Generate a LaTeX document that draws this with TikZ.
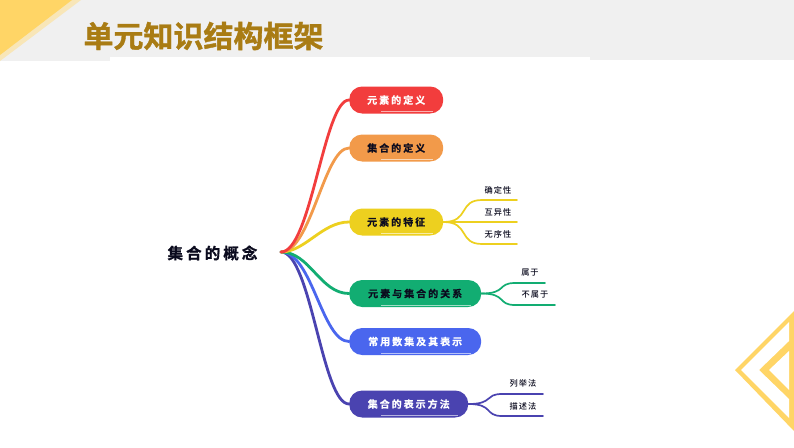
\documentclass[tikz,border=0pt]{standalone}
\usepackage{fontspec}
\newfontfamily\cjktitle[FakeBold=1.2]{Noto Sans CJK SC Bold}
\newfontfamily\cjkroot[LetterSpace=20,FakeBold=1]{Noto Sans CJK SC Bold}
\newfontfamily\cjkpill[LetterSpace=20,FakeBold=0.6]{Noto Sans CJK SC Bold}
\newfontfamily\cjkleaf[LetterSpace=12]{Noto Sans CJK SC Medium}
\definecolor{bandgray}{HTML}{F0F0F0}
\definecolor{sunA}{HTML}{FFD566}
\definecolor{sunB}{HTML}{F8E6B8}
\definecolor{titlegold}{HTML}{A97C14}
\definecolor{cRed}{HTML}{F23D3D}
\definecolor{cOrange}{HTML}{F29A4A}
\definecolor{cYellow}{HTML}{EDD01F}
\definecolor{cGreen}{HTML}{12AD72}
\definecolor{cBlue}{HTML}{4A66EE}
\definecolor{cPurple}{HTML}{4A43B0}
\definecolor{ink}{HTML}{0B0B1E}
\tikzset{
  pill/.style={rounded corners=13pt,minimum height=27pt,inner sep=0pt,font=\cjkpill\fontsize{10}{12}\selectfont,anchor=west,
    path picture={\draw[white,opacity=.6,line width=.7pt]
      ([shift={(32,-1.8)}]path picture bounding box.south west) -- ([shift={(-10,-1.8)}]path picture bounding box.south east);}},
  leaf/.style={inner sep=0pt,font=\cjkleaf\fontsize{8.2}{9}\selectfont,text=ink},
  trunk/.style={line width=2.8pt,line cap=round},
  twig/.style={line width=1.7pt,line cap=round},
}
\begin{document}
\begin{tikzpicture}[x=1pt,y=-1pt]
\useasboundingbox (0,0) rectangle (794,447);
\fill[white] (0,0) rectangle (794,447);
% header band
\fill[bandgray] (0,0) rectangle (794,57);
\fill[bandgray] (0,57) rectangle (110,61);
\fill[bandgray] (590,57) rectangle (794,60);
\fill[sunB] (0,0) -- (81,0) -- (0,61) -- cycle;
\fill[sunA] (0,0) -- (72,0) -- (0,55) -- cycle;
\node[font=\cjktitle\fontsize{30}{32}\selectfont,text=titlegold,inner sep=0pt] (title) at (203.5,36) {单元知识结构框架};
% chevron
\fill[sunA] (735,370) -- (794,311) -- (794,431) -- cycle;
\fill[white] (741,370) -- (789,322) -- (789,341) -- (759,370) -- (789,399) -- (789,418) -- cycle;
\fill[white] (769,370) -- (789,351) -- (789,390) -- cycle;
% nodes
\node[inner sep=0pt,font=\cjkroot\fontsize{15.5}{17}\selectfont,text=ink] (root) at (212.5,253) {集合的概念};
\coordinate (hub) at (281,252);
\node[pill,fill=cRed,text=white,minimum width=94pt] (n1) at (349,100) {元素的定义};
\node[pill,fill=cOrange,text=ink,minimum width=94pt] (n2) at (349,148) {集合的定义};
\node[pill,fill=cYellow,text=ink,minimum width=94pt] (n3) at (349,222) {元素的特征};
\node[pill,fill=cGreen,text=ink,minimum width=132pt] (n4) at (349,293.5) {元素与集合的关系};
\node[pill,fill=cBlue,text=white,minimum width=132pt] (n5) at (349,341.5) {常用数集及其表示};
\node[pill,fill=cPurple,text=white,minimum width=119pt] (n6) at (349,404) {集合的表示方法};
% trunks
\draw[trunk,cPurple] (hub) .. controls (311,252) and (322,404) .. (n6.west);
\draw[trunk,cBlue] (hub) .. controls (312,252) and (322,341.5) .. (n5.west);
\draw[trunk,cGreen] (hub) .. controls (310,252) and (320,293.5) .. (n4.west);
\draw[trunk,cYellow] (hub) .. controls (305,252) and (322,222) .. (n3.west);
\draw[trunk,cOrange] (hub) .. controls (311,252) and (324,148) .. (n2.west);
\draw[trunk,cRed] (hub) .. controls (311,252) and (324,100) .. (n1.west);
% leaves
\node[leaf] (a1) at (498,190) {确定性};
\node[leaf] (a2) at (498,212) {互异性};
\node[leaf] (a3) at (498,234) {无序性};
\coordinate (a1e) at (517,200);
\coordinate (a2e) at (517,222);
\coordinate (a3e) at (517,244);
\draw[twig,cYellow] (n3.east) .. controls (470,222) and (458,200) .. (482,200) -- (a1e);
\draw[twig,cYellow] (n3.east) -- (a2e);
\draw[twig,cYellow] (n3.east) .. controls (470,222) and (458,244) .. (482,244) -- (a3e);
\node[leaf] (b1) at (530,273) {属于};
\node[leaf] (b2) at (535,295) {不属于};
\coordinate (b1e) at (545,283);
\coordinate (b2e) at (555,305);
\draw[twig,cGreen] (n4.east) .. controls (507,293.5) and (497,283) .. (515,283) -- (b1e);
\draw[twig,cGreen] (n4.east) .. controls (507,293.5) and (497,305) .. (515,305) -- (b2e);
\node[leaf] (c1) at (523,383) {列举法};
\node[leaf] (c2) at (523,406) {描述法};
\coordinate (c1e) at (543,394);
\coordinate (c2e) at (543,416);
\draw[twig,cPurple] (n6.east) .. controls (494,404) and (484,394) .. (502,394) -- (c1e);
\draw[twig,cPurple] (n6.east) .. controls (494,404) and (484,416) .. (502,416) -- (c2e);
\end{tikzpicture}
\end{document}
